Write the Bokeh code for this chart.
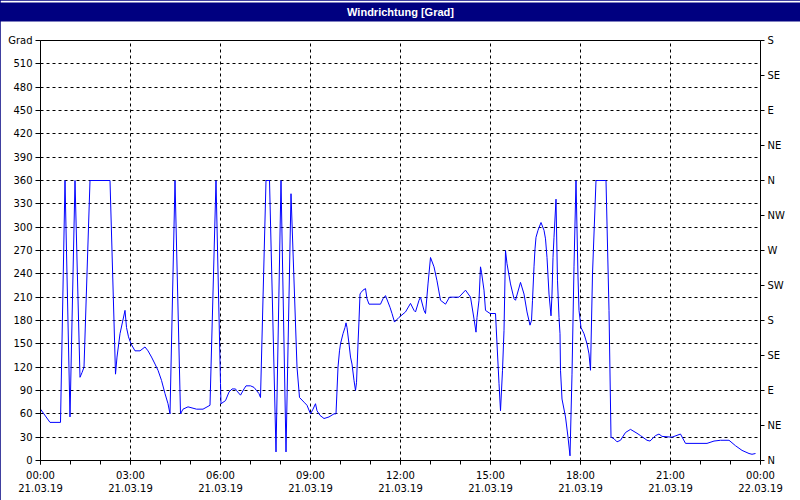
from bokeh.plotting import figure
from bokeh.models import (LinearAxis, Range1d, FixedTicker, Grid, Title,
                          ColumnDataSource)
from bokeh.embed import file_html
from bokeh.resources import INLINE

# ---- data ----
title_text = "Windrichtung [Grad]"
y_unit_label = "Grad"

time_min = [
    0, 19, 40, 49, 59, 69, 79, 83, 87, 99,
    139, 150, 153, 159, 169, 172, 176, 181, 189, 199,
    209, 215, 222, 229, 235, 242, 249, 255, 259, 269,
    280, 285, 295, 312, 325, 339, 351, 360, 361, 370,
    377, 383, 390, 392, 400, 407, 411, 420, 427, 432,
    437, 440, 451, 458, 471, 481, 491, 501, 513, 518,
    527, 533, 540, 545, 550, 553, 559, 567, 577, 587,
    591, 595, 598, 600, 605, 609, 611, 613, 617, 620,
    623, 627, 630, 632, 635, 637, 639, 641, 645, 650,
    653, 657, 680, 685, 690, 699, 703, 708, 717, 730,
    740, 747, 750, 757, 760, 767, 770, 775, 780, 787,
    793, 800, 810, 818, 837, 850, 860, 867, 871, 873,
    877, 880, 882, 887, 890, 899, 910, 913, 917, 920,
    924, 927, 930, 933, 940, 947, 950, 960, 967, 973,
    979, 982, 984, 987, 989, 991, 995, 1001, 1007, 1010,
    1013, 1017, 1021, 1023, 1025, 1027, 1031, 1032, 1034, 1037,
    1039, 1040, 1043, 1050, 1055, 1059, 1063, 1067, 1071, 1075,
    1077, 1081, 1087, 1093, 1097, 1100, 1104, 1111, 1131, 1137,
    1141, 1147, 1153, 1160, 1170, 1180, 1193, 1200, 1213, 1219,
    1230, 1237, 1243, 1263, 1280, 1290, 1333, 1347, 1360, 1377,
    1390, 1403, 1417, 1423, 1430,
]

direction_deg = [
    66, 49, 49, 360, 56, 360, 107, 113, 120, 360,
    360, 111, 133, 163, 193, 171, 159, 150, 141, 141,
    146, 141, 133, 124, 116, 103, 86, 73, 60, 360,
    60, 66, 69, 66, 66, 71, 360, 99, 73, 77,
    88, 92, 92, 90, 84, 92, 96, 96, 94, 90,
    86, 81, 360, 360, 11, 360, 11, 343, 120, 81,
    75, 71, 60, 66, 73, 64, 58, 54, 56, 60,
    60, 120, 141, 150, 163, 171, 177, 171, 150, 133,
    124, 103, 90, 100, 150, 180, 214, 216, 219, 221,
    208, 201, 201, 208, 212, 197, 189, 178, 184, 191,
    202, 193, 191, 206, 210, 193, 189, 227, 261, 249,
    231, 206, 201, 210, 210, 219, 210, 182, 165, 184,
    206, 249, 242, 219, 193, 189, 189, 150, 99, 64,
    116, 167, 270, 253, 227, 208, 206, 229, 214, 191,
    174, 180, 206, 249, 272, 287, 296, 306, 296, 285,
    261, 214, 186, 214, 261, 287, 336, 299, 231, 184,
    163, 116, 79, 56, 30, 6, 111, 249, 360, 236,
    193, 171, 163, 150, 137, 116, 240, 360, 360, 193,
    30, 28, 24, 26, 36, 40, 35, 32, 26, 25,
    32, 34, 31, 30, 34, 22, 22, 25, 26, 26,
    19, 13, 9, 8, 9,
]

x_tick_hours = [0, 3, 6, 9, 12, 15, 18, 21, 24]
x_time_labels = ["00:00", "03:00", "06:00", "09:00", "12:00",
                 "15:00", "18:00", "21:00", "00:00"]
x_date_labels = ["21.03.19"] * 8 + ["22.03.19"]

y_ticks = list(range(0, 541, 30))
compass_ticks = list(range(0, 541, 45))
compass_labels = ["N", "NE", "E", "SE", "S", "SW", "W", "NW",
                  "N", "NE", "E", "SE", "S"]

# ---- figure ----
FONT = "DejaVu Sans"
FS = "10px"

src = ColumnDataSource(dict(x=[m / 60 for m in time_min], y=direction_deg))

p = figure(width=800, height=500, output_backend="svg", toolbar_location=None,
           x_range=Range1d(0, 24), y_range=Range1d(0, 540),
           x_axis_type=None, y_axis_type=None, title=None,
           min_border_left=40, min_border_right=40,
           min_border_top=0, min_border_bottom=40)
p.background_fill_color = "white"
p.border_fill_color = "white"
p.outline_line_color = "black"
p.outline_line_width = 1
p.styles = {"outline": "1px solid #000080", "outline-offset": "-1px"}

# white spacer between the title bar and the plot frame
spacer = Title(text=" ", text_font_size="1px", standoff=16, offset=0)
p.add_layout(spacer, "above")

ttl = Title(text=title_text, align="center", text_color="white",
            text_font="Liberation Sans", text_font_style="bold",
            text_font_size="11px", background_fill_color="#000080",
            padding=dict(left=420, right=420, top=3, bottom=4),
            standoff=0, offset=0)
p.add_layout(ttl, "above")

p.extra_y_ranges = {"compass": Range1d(0, 540)}

def style_axis(ax):
    ax.axis_line_color = "black"
    ax.major_tick_line_color = "black"
    ax.minor_tick_line_color = "black"
    ax.major_tick_in = 0
    ax.major_tick_out = 4
    ax.minor_tick_in = 0
    ax.minor_tick_out = 4
    ax.major_label_text_font = FONT
    ax.major_label_text_font_size = FS
    ax.major_label_text_color = "black"

x_ticker = FixedTicker(ticks=x_tick_hours, minor_ticks=list(range(0, 25)))
xaxis = LinearAxis(ticker=x_ticker,
                   major_label_overrides={h: f"{t}\n{d}" for h, t, d in
                                          zip(x_tick_hours, x_time_labels, x_date_labels)})
style_axis(xaxis)
xaxis.major_label_standoff = 5
p.add_layout(xaxis, "below")

y_ticker = FixedTicker(ticks=y_ticks, minor_ticks=[])
yaxis = LinearAxis(ticker=y_ticker, major_label_overrides={540: y_unit_label})
style_axis(yaxis)
yaxis.major_tick_out = 5
yaxis.major_label_standoff = 3
p.add_layout(yaxis, "left")

c_ticker = FixedTicker(ticks=compass_ticks, minor_ticks=[])
raxis = LinearAxis(ticker=c_ticker, y_range_name="compass",
                   major_label_overrides={v: s for v, s in zip(compass_ticks, compass_labels)})
style_axis(raxis)
raxis.major_label_standoff = 3
p.add_layout(raxis, "right")

gx = Grid(dimension=0, ticker=x_ticker, grid_line_color="black",
          grid_line_dash="3 3", grid_line_width=1)
gy = Grid(dimension=1, ticker=y_ticker, grid_line_color="black",
          grid_line_dash="3 3", grid_line_width=1)
p.add_layout(gx)
p.add_layout(gy)

p.line("x", "y", source=src, line_color="#0000FF", line_width=1)

open("out.html", "w").write(file_html(p, INLINE))
